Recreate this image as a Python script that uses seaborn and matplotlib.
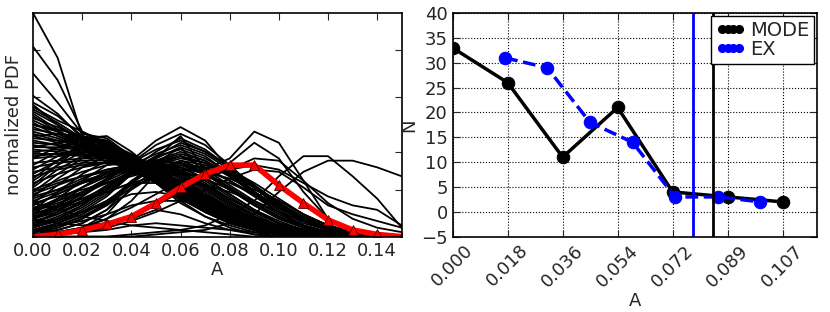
import numpy as np
import pandas as pd
import seaborn as sns
import matplotlib
matplotlib.use("Agg")
import matplotlib.pyplot as plt

# ---- left panel data: normalized PDFs on a common A grid ----
a_grid = [0.00, 0.01, 0.02, 0.03, 0.04, 0.05, 0.06, 0.07,
          0.08, 0.09, 0.10, 0.11, 0.12, 0.13, 0.14, 0.15]

pdf_curves = [
    # decaying from A = 0
    [1.00, 0.80, 0.45, 0.40, 0.34, 0.26, 0.18, 0.12, 0.07, 0.04, 0.02, 0.01, 0.00, 0.00, 0.00, 0.00],
    [0.85, 0.70, 0.47, 0.42, 0.35, 0.27, 0.19, 0.12, 0.07, 0.03, 0.01, 0.00, 0.00, 0.00, 0.00, 0.00],
    [0.73, 0.60, 0.46, 0.44, 0.36, 0.28, 0.20, 0.13, 0.08, 0.04, 0.02, 0.01, 0.00, 0.00, 0.00, 0.00],
    [0.63, 0.55, 0.44, 0.45, 0.38, 0.29, 0.22, 0.15, 0.09, 0.05, 0.02, 0.01, 0.00, 0.00, 0.00, 0.00],
    [0.60, 0.54, 0.45, 0.41, 0.34, 0.26, 0.20, 0.14, 0.08, 0.04, 0.02, 0.00, 0.00, 0.00, 0.00, 0.00],
    [0.58, 0.52, 0.47, 0.40, 0.32, 0.24, 0.17, 0.11, 0.06, 0.03, 0.01, 0.00, 0.00, 0.00, 0.00, 0.00],
    [0.56, 0.50, 0.43, 0.38, 0.33, 0.27, 0.21, 0.15, 0.10, 0.06, 0.03, 0.01, 0.00, 0.00, 0.00, 0.00],
    [0.55, 0.48, 0.40, 0.36, 0.31, 0.25, 0.19, 0.14, 0.09, 0.05, 0.02, 0.01, 0.00, 0.00, 0.00, 0.00],
    [0.53, 0.49, 0.44, 0.39, 0.33, 0.26, 0.18, 0.12, 0.07, 0.03, 0.01, 0.00, 0.00, 0.00, 0.00, 0.00],
    [0.52, 0.47, 0.42, 0.37, 0.32, 0.27, 0.22, 0.16, 0.11, 0.07, 0.04, 0.02, 0.01, 0.00, 0.00, 0.00],
    [0.50, 0.47, 0.43, 0.36, 0.30, 0.24, 0.18, 0.12, 0.07, 0.04, 0.02, 0.00, 0.00, 0.00, 0.00, 0.00],
    [0.48, 0.46, 0.41, 0.37, 0.31, 0.25, 0.20, 0.14, 0.09, 0.05, 0.02, 0.01, 0.00, 0.00, 0.00, 0.00],
    [0.47, 0.44, 0.40, 0.35, 0.30, 0.24, 0.19, 0.14, 0.09, 0.05, 0.03, 0.01, 0.00, 0.00, 0.00, 0.00],
    [0.45, 0.42, 0.39, 0.35, 0.31, 0.26, 0.21, 0.16, 0.11, 0.07, 0.04, 0.02, 0.01, 0.00, 0.00, 0.00],
    [0.44, 0.43, 0.41, 0.38, 0.33, 0.27, 0.20, 0.13, 0.08, 0.04, 0.02, 0.01, 0.00, 0.00, 0.00, 0.00],
    [0.42, 0.41, 0.40, 0.37, 0.33, 0.28, 0.22, 0.16, 0.10, 0.06, 0.03, 0.01, 0.00, 0.00, 0.00, 0.00],
    [0.40, 0.40, 0.39, 0.36, 0.32, 0.28, 0.23, 0.17, 0.12, 0.07, 0.04, 0.02, 0.01, 0.00, 0.00, 0.00],
    [0.38, 0.39, 0.40, 0.38, 0.34, 0.29, 0.23, 0.17, 0.11, 0.07, 0.03, 0.01, 0.00, 0.00, 0.00, 0.00],
    [0.37, 0.37, 0.36, 0.34, 0.31, 0.27, 0.22, 0.17, 0.12, 0.08, 0.05, 0.02, 0.01, 0.00, 0.00, 0.00],
    [0.35, 0.36, 0.37, 0.36, 0.33, 0.29, 0.24, 0.18, 0.12, 0.07, 0.04, 0.02, 0.00, 0.00, 0.00, 0.00],
    [0.59, 0.50, 0.42, 0.37, 0.31, 0.24, 0.17, 0.11, 0.06, 0.03, 0.01, 0.00, 0.00, 0.00, 0.00, 0.00],
    [0.57, 0.51, 0.44, 0.38, 0.32, 0.25, 0.18, 0.12, 0.07, 0.03, 0.01, 0.00, 0.00, 0.00, 0.00, 0.00],
    [0.54, 0.47, 0.41, 0.38, 0.34, 0.28, 0.21, 0.14, 0.08, 0.04, 0.02, 0.00, 0.00, 0.00, 0.00, 0.00],
    [0.51, 0.45, 0.40, 0.36, 0.33, 0.28, 0.22, 0.15, 0.09, 0.05, 0.02, 0.01, 0.00, 0.00, 0.00, 0.00],
    [0.49, 0.45, 0.41, 0.38, 0.34, 0.29, 0.22, 0.15, 0.09, 0.04, 0.02, 0.00, 0.00, 0.00, 0.00, 0.00],
    [0.46, 0.43, 0.40, 0.37, 0.33, 0.28, 0.22, 0.16, 0.10, 0.05, 0.02, 0.00, 0.00, 0.00, 0.00, 0.00],
    [0.43, 0.41, 0.38, 0.36, 0.32, 0.27, 0.21, 0.15, 0.10, 0.06, 0.03, 0.01, 0.00, 0.00, 0.00, 0.00],
    [0.41, 0.39, 0.37, 0.35, 0.32, 0.28, 0.23, 0.17, 0.11, 0.06, 0.03, 0.01, 0.00, 0.00, 0.00, 0.00],
    [0.39, 0.38, 0.37, 0.35, 0.33, 0.29, 0.24, 0.18, 0.12, 0.07, 0.04, 0.02, 0.00, 0.00, 0.00, 0.00],
    [0.36, 0.37, 0.38, 0.37, 0.34, 0.30, 0.24, 0.17, 0.10, 0.05, 0.02, 0.00, 0.00, 0.00, 0.00, 0.00],
    [0.33, 0.34, 0.35, 0.35, 0.33, 0.29, 0.23, 0.16, 0.10, 0.05, 0.02, 0.01, 0.00, 0.00, 0.00, 0.00],
    [0.31, 0.33, 0.34, 0.34, 0.32, 0.28, 0.22, 0.15, 0.09, 0.05, 0.02, 0.00, 0.00, 0.00, 0.00, 0.00],
    [0.29, 0.31, 0.33, 0.33, 0.31, 0.28, 0.24, 0.18, 0.12, 0.07, 0.03, 0.01, 0.00, 0.00, 0.00, 0.00],
    [0.27, 0.30, 0.32, 0.33, 0.32, 0.29, 0.24, 0.18, 0.11, 0.06, 0.03, 0.01, 0.00, 0.00, 0.00, 0.00],
    # cluster bending near A = 0.02-0.03
    [0.50, 0.48, 0.45, 0.42, 0.35, 0.27, 0.19, 0.12, 0.07, 0.03, 0.01, 0.00, 0.00, 0.00, 0.00, 0.00],
    [0.45, 0.46, 0.45, 0.43, 0.36, 0.27, 0.18, 0.11, 0.06, 0.03, 0.01, 0.00, 0.00, 0.00, 0.00, 0.00],
    [0.40, 0.42, 0.44, 0.41, 0.34, 0.27, 0.20, 0.13, 0.07, 0.03, 0.01, 0.00, 0.00, 0.00, 0.00, 0.00],
    [0.26, 0.34, 0.42, 0.42, 0.35, 0.27, 0.19, 0.12, 0.07, 0.03, 0.01, 0.00, 0.00, 0.00, 0.00, 0.00],
    [0.23, 0.32, 0.41, 0.40, 0.35, 0.28, 0.21, 0.14, 0.08, 0.04, 0.01, 0.00, 0.00, 0.00, 0.00, 0.00],
    [0.35, 0.40, 0.43, 0.43, 0.35, 0.25, 0.16, 0.09, 0.04, 0.01, 0.00, 0.00, 0.00, 0.00, 0.00, 0.00],
    [0.32, 0.38, 0.44, 0.42, 0.34, 0.24, 0.15, 0.09, 0.05, 0.02, 0.00, 0.00, 0.00, 0.00, 0.00, 0.00],
    # rising to a peak near A = 0.03-0.05
    [0.30, 0.36, 0.40, 0.41, 0.36, 0.28, 0.20, 0.13, 0.07, 0.03, 0.01, 0.00, 0.00, 0.00, 0.00, 0.00],
    [0.28, 0.34, 0.39, 0.42, 0.37, 0.30, 0.22, 0.14, 0.08, 0.04, 0.02, 0.00, 0.00, 0.00, 0.00, 0.00],
    [0.25, 0.32, 0.38, 0.40, 0.36, 0.30, 0.23, 0.16, 0.10, 0.05, 0.02, 0.01, 0.00, 0.00, 0.00, 0.00],
    [0.22, 0.30, 0.36, 0.39, 0.37, 0.31, 0.24, 0.17, 0.10, 0.05, 0.02, 0.00, 0.00, 0.00, 0.00, 0.00],
    [0.20, 0.28, 0.35, 0.38, 0.35, 0.30, 0.25, 0.18, 0.12, 0.07, 0.03, 0.01, 0.00, 0.00, 0.00, 0.00],
    [0.18, 0.26, 0.33, 0.37, 0.36, 0.32, 0.26, 0.19, 0.12, 0.06, 0.03, 0.01, 0.00, 0.00, 0.00, 0.00],
    [0.15, 0.23, 0.31, 0.36, 0.35, 0.31, 0.26, 0.20, 0.13, 0.07, 0.03, 0.01, 0.00, 0.00, 0.00, 0.00],
    [0.12, 0.20, 0.28, 0.34, 0.34, 0.32, 0.27, 0.21, 0.14, 0.08, 0.04, 0.01, 0.00, 0.00, 0.00, 0.00],
    [0.10, 0.17, 0.25, 0.32, 0.34, 0.33, 0.28, 0.22, 0.15, 0.09, 0.04, 0.02, 0.00, 0.00, 0.00, 0.00],
    [0.08, 0.14, 0.22, 0.29, 0.33, 0.33, 0.29, 0.23, 0.16, 0.10, 0.05, 0.02, 0.00, 0.00, 0.00, 0.00],
    [0.06, 0.11, 0.18, 0.26, 0.31, 0.33, 0.30, 0.24, 0.17, 0.11, 0.06, 0.03, 0.01, 0.00, 0.00, 0.00],
    [0.04, 0.08, 0.14, 0.22, 0.29, 0.33, 0.31, 0.26, 0.19, 0.12, 0.07, 0.03, 0.01, 0.00, 0.00, 0.00],
    [0.02, 0.04, 0.08, 0.14, 0.24, 0.34, 0.33, 0.28, 0.21, 0.14, 0.08, 0.04, 0.02, 0.00, 0.00, 0.00],
    [0.01, 0.02, 0.04, 0.08, 0.16, 0.28, 0.34, 0.30, 0.23, 0.16, 0.10, 0.05, 0.02, 0.01, 0.00, 0.00],
    [0.24, 0.28, 0.31, 0.33, 0.33, 0.30, 0.25, 0.19, 0.13, 0.08, 0.04, 0.02, 0.01, 0.00, 0.00, 0.00],
    [0.21, 0.25, 0.29, 0.32, 0.33, 0.31, 0.27, 0.21, 0.14, 0.08, 0.04, 0.01, 0.00, 0.00, 0.00, 0.00],
    [0.19, 0.23, 0.27, 0.30, 0.32, 0.31, 0.28, 0.22, 0.15, 0.09, 0.05, 0.02, 0.00, 0.00, 0.00, 0.00],
    [0.17, 0.21, 0.26, 0.30, 0.32, 0.32, 0.29, 0.23, 0.16, 0.09, 0.04, 0.02, 0.00, 0.00, 0.00, 0.00],
    [0.14, 0.19, 0.24, 0.29, 0.31, 0.31, 0.28, 0.23, 0.17, 0.11, 0.06, 0.03, 0.01, 0.00, 0.00, 0.00],
    [0.11, 0.16, 0.22, 0.27, 0.31, 0.32, 0.30, 0.25, 0.18, 0.11, 0.06, 0.02, 0.00, 0.00, 0.00, 0.00],
    [0.09, 0.13, 0.19, 0.25, 0.30, 0.32, 0.31, 0.26, 0.19, 0.12, 0.06, 0.03, 0.01, 0.00, 0.00, 0.00],
    [0.07, 0.10, 0.16, 0.23, 0.29, 0.32, 0.32, 0.28, 0.21, 0.14, 0.08, 0.04, 0.01, 0.00, 0.00, 0.00],
    [0.05, 0.08, 0.13, 0.20, 0.28, 0.33, 0.33, 0.29, 0.22, 0.15, 0.09, 0.04, 0.02, 0.00, 0.00, 0.00],
    # peaked near A = 0.06
    [0.10, 0.14, 0.20, 0.26, 0.34, 0.43, 0.49, 0.43, 0.30, 0.20, 0.12, 0.06, 0.03, 0.01, 0.00, 0.00],
    [0.08, 0.12, 0.18, 0.25, 0.33, 0.41, 0.46, 0.41, 0.32, 0.22, 0.13, 0.07, 0.03, 0.01, 0.00, 0.00],
    [0.12, 0.17, 0.22, 0.27, 0.33, 0.39, 0.43, 0.38, 0.31, 0.23, 0.15, 0.08, 0.04, 0.02, 0.00, 0.00],
    [0.14, 0.19, 0.24, 0.28, 0.32, 0.37, 0.41, 0.37, 0.30, 0.22, 0.14, 0.08, 0.04, 0.01, 0.00, 0.00],
    [0.05, 0.09, 0.14, 0.21, 0.30, 0.36, 0.39, 0.35, 0.29, 0.22, 0.15, 0.09, 0.04, 0.02, 0.00, 0.00],
    [0.16, 0.20, 0.25, 0.28, 0.31, 0.34, 0.37, 0.34, 0.28, 0.20, 0.13, 0.07, 0.03, 0.01, 0.00, 0.00],
    [0.03, 0.06, 0.11, 0.18, 0.28, 0.34, 0.36, 0.33, 0.28, 0.22, 0.16, 0.10, 0.05, 0.02, 0.00, 0.00],
    [0.20, 0.24, 0.27, 0.29, 0.30, 0.32, 0.35, 0.33, 0.27, 0.19, 0.11, 0.05, 0.02, 0.00, 0.00, 0.00],
    [0.01, 0.02, 0.04, 0.10, 0.22, 0.30, 0.34, 0.32, 0.28, 0.22, 0.15, 0.08, 0.03, 0.01, 0.00, 0.00],
    [0.02, 0.03, 0.06, 0.12, 0.24, 0.31, 0.32, 0.31, 0.30, 0.24, 0.17, 0.10, 0.05, 0.02, 0.00, 0.00],
    [0.18, 0.21, 0.24, 0.27, 0.30, 0.35, 0.40, 0.36, 0.28, 0.19, 0.11, 0.05, 0.02, 0.00, 0.00, 0.00],
    [0.06, 0.10, 0.15, 0.22, 0.30, 0.38, 0.44, 0.39, 0.31, 0.22, 0.14, 0.07, 0.03, 0.01, 0.00, 0.00],
    [0.04, 0.07, 0.12, 0.19, 0.28, 0.36, 0.42, 0.38, 0.31, 0.23, 0.15, 0.08, 0.03, 0.01, 0.00, 0.00],
    [0.10, 0.13, 0.17, 0.22, 0.29, 0.34, 0.38, 0.34, 0.27, 0.20, 0.13, 0.07, 0.03, 0.00, 0.00, 0.00],
    [0.13, 0.16, 0.20, 0.24, 0.29, 0.33, 0.36, 0.31, 0.25, 0.18, 0.11, 0.05, 0.02, 0.00, 0.00, 0.00],
    [0.02, 0.04, 0.08, 0.15, 0.25, 0.32, 0.36, 0.33, 0.27, 0.20, 0.13, 0.07, 0.03, 0.01, 0.00, 0.00],
    [0.08, 0.11, 0.15, 0.21, 0.28, 0.31, 0.33, 0.30, 0.25, 0.19, 0.13, 0.08, 0.04, 0.02, 0.00, 0.00],
    [0.01, 0.03, 0.06, 0.12, 0.21, 0.28, 0.30, 0.29, 0.26, 0.21, 0.16, 0.10, 0.05, 0.02, 0.00, 0.00],
    [0.03, 0.05, 0.09, 0.14, 0.22, 0.27, 0.28, 0.27, 0.24, 0.19, 0.14, 0.09, 0.05, 0.02, 0.00, 0.00],
    [0.05, 0.07, 0.11, 0.16, 0.23, 0.26, 0.25, 0.23, 0.20, 0.16, 0.11, 0.07, 0.03, 0.01, 0.00, 0.00],
    [0.12, 0.14, 0.17, 0.20, 0.24, 0.27, 0.29, 0.26, 0.21, 0.15, 0.09, 0.05, 0.02, 0.00, 0.00, 0.00],
    [0.15, 0.18, 0.21, 0.24, 0.27, 0.30, 0.31, 0.28, 0.22, 0.15, 0.09, 0.04, 0.01, 0.00, 0.00, 0.00],
    # staying low
    [0.12, 0.15, 0.19, 0.24, 0.28, 0.28, 0.24, 0.18, 0.12, 0.07, 0.03, 0.01, 0.00, 0.00, 0.00, 0.00],
    [0.09, 0.12, 0.16, 0.20, 0.24, 0.24, 0.20, 0.15, 0.10, 0.06, 0.03, 0.01, 0.00, 0.00, 0.00, 0.00],
    [0.06, 0.08, 0.11, 0.15, 0.19, 0.20, 0.18, 0.14, 0.10, 0.06, 0.03, 0.01, 0.00, 0.00, 0.00, 0.00],
    [0.03, 0.05, 0.07, 0.10, 0.14, 0.16, 0.16, 0.14, 0.11, 0.08, 0.05, 0.02, 0.01, 0.00, 0.00, 0.00],
    [0.15, 0.12, 0.09, 0.07, 0.05, 0.04, 0.03, 0.02, 0.01, 0.00, 0.00, 0.00, 0.00, 0.00, 0.00, 0.00],
    [0.00, 0.01, 0.02, 0.03, 0.05, 0.06, 0.05, 0.04, 0.03, 0.02, 0.01, 0.00, 0.00, 0.00, 0.00, 0.00],
    [0.08, 0.06, 0.05, 0.06, 0.08, 0.12, 0.10, 0.06, 0.03, 0.01, 0.00, 0.00, 0.00, 0.00, 0.00, 0.00],
    # second bump near A = 0.09
    [0.02, 0.05, 0.09, 0.15, 0.24, 0.35, 0.45, 0.30, 0.35, 0.47, 0.42, 0.25, 0.08, 0.02, 0.00, 0.00],
    [0.03, 0.06, 0.10, 0.16, 0.24, 0.33, 0.40, 0.28, 0.33, 0.42, 0.35, 0.20, 0.08, 0.02, 0.00, 0.00],
    [0.01, 0.02, 0.04, 0.08, 0.13, 0.19, 0.25, 0.28, 0.30, 0.35, 0.34, 0.25, 0.15, 0.08, 0.04, 0.02],
    [0.00, 0.01, 0.02, 0.05, 0.09, 0.14, 0.20, 0.26, 0.30, 0.32, 0.30, 0.24, 0.18, 0.14, 0.12, 0.05],
    # late peaks
    [0.00, 0.00, 0.00, 0.00, 0.01, 0.02, 0.03, 0.05, 0.10, 0.16, 0.27, 0.36, 0.36, 0.27, 0.17, 0.04],
    [0.00, 0.00, 0.00, 0.00, 0.00, 0.01, 0.02, 0.03, 0.06, 0.10, 0.20, 0.29, 0.34, 0.34, 0.31, 0.27],
    [0.00, 0.01, 0.02, 0.04, 0.07, 0.11, 0.16, 0.21, 0.26, 0.30, 0.29, 0.22, 0.14, 0.10, 0.07, 0.04],
]

# mean PDF (red)
mean_pdf = [0.00, 0.01, 0.03, 0.055, 0.09, 0.15, 0.22, 0.28,
            0.32, 0.32, 0.23, 0.15, 0.075, 0.03, 0.01, 0.00]

# ---- right panel data ----
mode_a = [0.0, 0.01786, 0.03571, 0.05357, 0.07143, 0.08929, 0.10714]
mode_n = [33, 26, 11, 21, 4, 3, 2]
ex_a = [0.0170, 0.0307, 0.0446, 0.0584, 0.0722, 0.0861, 0.0999]
ex_n = [31, 29, 18, 14, 3, 3, 2]
mode_mark = 0.0844
ex_mark = 0.0779
xtick_vals = [0.0, 0.01786, 0.03571, 0.05357, 0.07143, 0.08929, 0.10714]
xtick_labels = ["0.000", "0.018", "0.036", "0.054", "0.072", "0.089", "0.107"]

sns.set_style("ticks")
plt.rcParams["font.family"] = ["DejaVu Sans"]
plt.rcParams["font.size"] = 13
plt.rcParams["xtick.direction"] = "in"
plt.rcParams["ytick.direction"] = "in"

fig = plt.figure(figsize=(8.3, 3.12), dpi=100)
ax1 = fig.add_axes([0.0398, 0.2415, 0.4443, 0.7165])
ax2 = fig.add_axes([0.5454, 0.2415, 0.4389, 0.7165])

# left panel
rows = []
for i, curve in enumerate(pdf_curves):
    for a, p in zip(a_grid, curve):
        rows.append({"A": a, "pdf": p, "curve": i})
df_pdf = pd.DataFrame(rows)
sns.lineplot(data=df_pdf, x="A", y="pdf", units="curve", estimator=None,
             color="black", lw=1.3, ax=ax1, legend=False)
sns.lineplot(x=a_grid, y=mean_pdf, color="red", lw=4, marker="^",
             markersize=7, markeredgecolor="#550000", markeredgewidth=0.6, ax=ax1)
ax1.set_xlim(0, 0.15)
ax1.set_ylim(0, 1)
ax1.set_xticks([0.00, 0.02, 0.04, 0.06, 0.08, 0.10, 0.12, 0.14])
ax1.set_xticklabels(["0.00", "0.02", "0.04", "0.06", "0.08", "0.10", "0.12", "0.14"])
ax1.set_yticks([0.209, 0.378, 0.624, 0.835])
ax1.set_yticklabels([])
ax1.set_xlabel("A", labelpad=1)
ax1.set_ylabel("normalized PDF")
ax1.tick_params(top=True, right=True, length=5, width=0.8)

# right panel
sns.lineplot(x=mode_a, y=mode_n, color="black", lw=2.5, marker="o",
             markersize=9, markeredgecolor="black", label="MODE", ax=ax2)
sns.lineplot(x=ex_a, y=ex_n, color="blue", lw=2.5, marker="o",
             markersize=9, markeredgecolor="blue", label="EX", ax=ax2)
ax2.lines[1].set_linestyle("--")
ax2.axvline(ex_mark, color="blue", lw=2)
ax2.axvline(mode_mark, color="black", lw=2)
ax2.set_xlim(0, 0.1183)
ax2.set_ylim(-5, 40)
ax2.set_yticks(range(-5, 41, 5))
ax2.set_xticks(xtick_vals)
ax2.set_xticklabels(xtick_labels, rotation=45)
ax2.grid(True, color="black", linestyle=":", lw=0.8)
ax2.set_xlabel("A", labelpad=1)
ax2.set_ylabel("N", labelpad=2)
ax2.tick_params(top=True, right=True, length=5, width=0.8)
leg = ax2.legend(loc="upper right", numpoints=4, handlelength=1.5, handletextpad=0.25,
                 borderpad=0.25, labelspacing=0.0, borderaxespad=0.15,
                 fancybox=False, framealpha=1, markerscale=0.64, fontsize=14)
leg.get_frame().set_edgecolor("black")
leg.get_lines()[1].set_linestyle("--")

for ax in (ax1, ax2):
    for s in ax.spines.values():
        s.set_linewidth(1.2)
        s.set_color("black")

fig.savefig("out.png", dpi=100)
